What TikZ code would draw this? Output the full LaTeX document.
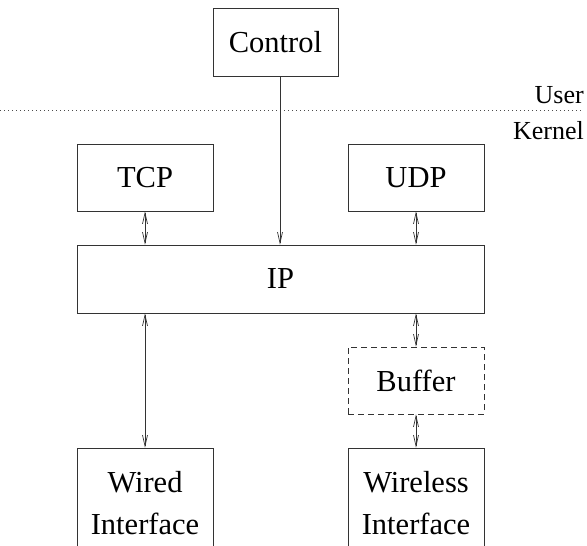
\documentclass[tikz,border=0pt]{standalone}
\usepackage{fontspec}
\newfontfamily\tnr{LiberationSerif}[Extension=.ttf, UprightFont=*-Regular]
\usetikzlibrary{arrows.meta}
\begin{document}
\begin{tikzpicture}[x=1pt,y=1pt,
  box/.style={draw=black!80, line width=0.7pt, rectangle, inner sep=0pt, align=center,
    font=\tnr\fontsize{30.5}{42}\selectfont},
  arr/.style={draw=black!80, line width=0.7pt, -{Straight Barb[length=11pt,width=5pt]}},
  darr/.style={draw=black!80, line width=0.7pt, {Straight Barb[length=11pt,width=5pt]}-{Straight Barb[length=11pt,width=5pt]}},
  side/.style={font=\tnr\fontsize{26}{30}\selectfont, inner sep=0pt}]
\useasboundingbox (0,0) rectangle (587,-546);
\clip (0,0) rectangle (587,-546);
\node[box, minimum width=125, minimum height=68] (control) at (275.5,-42) {Control};
\node[box, minimum width=136, minimum height=67] (tcp) at (145,-177.5) {TCP};
\node[box, minimum width=136, minimum height=67] (udp) at (416,-177.5) {UDP};
\node[box, minimum width=407, minimum height=68] (ip) at (280.5,-279) {IP};
\node[box, dash pattern=on 6pt off 4pt, minimum width=136, minimum height=67] (buffer) at (416,-380.5) {Buffer};
\node[box, minimum width=136, minimum height=110] (wired) at (145,-503) {Wired\\Interface};
\node[box, minimum width=136, minimum height=110] (wireless) at (416,-503) {Wireless\\Interface};
\draw[black!70, line width=0.7pt, dash pattern=on 1pt off 3pt] (0,-110) coordinate (ul) -- (584,-110) coordinate (ur);
\node[side, anchor=base east] (user) at (584,-103) {User};
\node[side, anchor=base east] (kernel) at (584,-139) {Kernel};
\draw[arr] ([xshift=4.5pt]control.south) -- ([xshift=4.5pt]control.south |- ip.north);
\draw[darr] (tcp.south) -- (tcp.south |- ip.north);
\draw[darr] (udp.south) -- (udp.south |- ip.north);
\draw[darr] (ip.south -| wired.north) -- (wired.north);
\draw[darr] (ip.south -| buffer.north) -- (buffer.north);
\draw[darr] (buffer.south) -- (wireless.north);
\end{tikzpicture}
\end{document}
